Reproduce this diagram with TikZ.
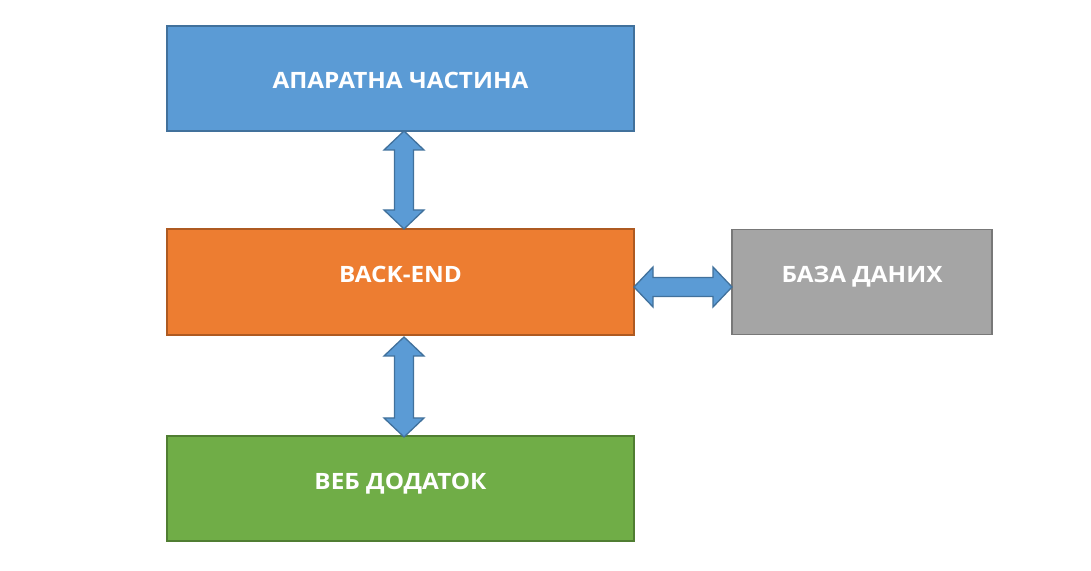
\documentclass[tikz,border=0pt]{standalone}
\usepackage{fontspec}
\setmainfont[FakeStretch=1.08]{Open Sans}
\usetikzlibrary{
    calc,
    positioning,
}
\definecolor{hwblue}{HTML}{5B9BD5}
\definecolor{hwline}{HTML}{41719C}
\definecolor{beorange}{HTML}{ED7D31}
\definecolor{beline}{HTML}{AE5A21}
\definecolor{dbgray}{HTML}{A5A5A5}
\definecolor{dbline}{HTML}{787878}
\definecolor{webgreen}{HTML}{70AD47}
\definecolor{webline}{HTML}{507E32}

\newcommand{\vdarrow}[2]{%
    \draw[blockarrow] (#1) -- ++(20,-19) -- ++(-10.5,0) -- ($(#2)+(9.5,19)$)
        -- ++(10.5,0) -- (#2) -- ++(-20,19) -- ++(10.5,0)
        -- ($(#1)+(-9.5,-19)$) -- ++(-10.5,0) -- cycle;}
\newcommand{\hdarrow}[2]{%
    \draw[blockarrow] (#1) -- ++(19,20) -- ++(0,-10.5) -- ($(#2)+(-19,9.5)$)
        -- ++(0,10.5) -- (#2) -- ++(-19,-20) -- ++(0,10.5)
        -- ($(#1)+(19,-9.5)$) -- ++(0,-10.5) -- cycle;}

\begin{document}
\begin{tikzpicture}[x=1pt, y=1pt,
    box/.style = {draw, line width=1.5pt, minimum height=105pt, text=white,
        font=\fontsize{22.5}{26}\selectfont\bfseries, inner sep=0pt, outer sep=0pt,
        text height=16pt, text depth=15pt},
    blockarrow/.style = {draw=hwline, fill=hwblue, line width=1.3pt, line join=miter}]
    \useasboundingbox (0,0) rectangle (1091,570);
    \node[box, fill=hwblue, draw=hwline, minimum width=467pt,
          text height=20pt, text depth=0pt] (hw) at (400.5,491.5) {АПАРАТНА ЧАСТИНА};
    \node[box, fill=beorange, draw=beline, minimum width=467pt,
          minimum height=106pt] (be) [below=98pt of hw] {BACK-END};
    \node[box, fill=webgreen, draw=webline, minimum width=467pt] (web) [below=101pt of be] {ВЕБ ДОДАТОК};
    \node[box, fill=dbgray, draw=dbline, minimum width=260pt] (db) [right=98pt of be] {БАЗА ДАНИХ};
    % arrows between the blocks
    \coordinate (a1) at ([xshift=3.5pt]hw.south);
    \coordinate (a2) at ([xshift=3.5pt]be.north);
    \coordinate (a3) at ([xshift=3.5pt, yshift=-2pt]be.south);
    \coordinate (a4) at ([xshift=3.5pt, yshift=-1pt]web.north);
    \coordinate (a5) at ([yshift=-5pt]be.east);
    \coordinate (a6) at ([yshift=-5pt]db.west);
    \vdarrow{a1}{a2}
    \vdarrow{a3}{a4}
    \hdarrow{a5}{a6}
\end{tikzpicture}
\end{document}
